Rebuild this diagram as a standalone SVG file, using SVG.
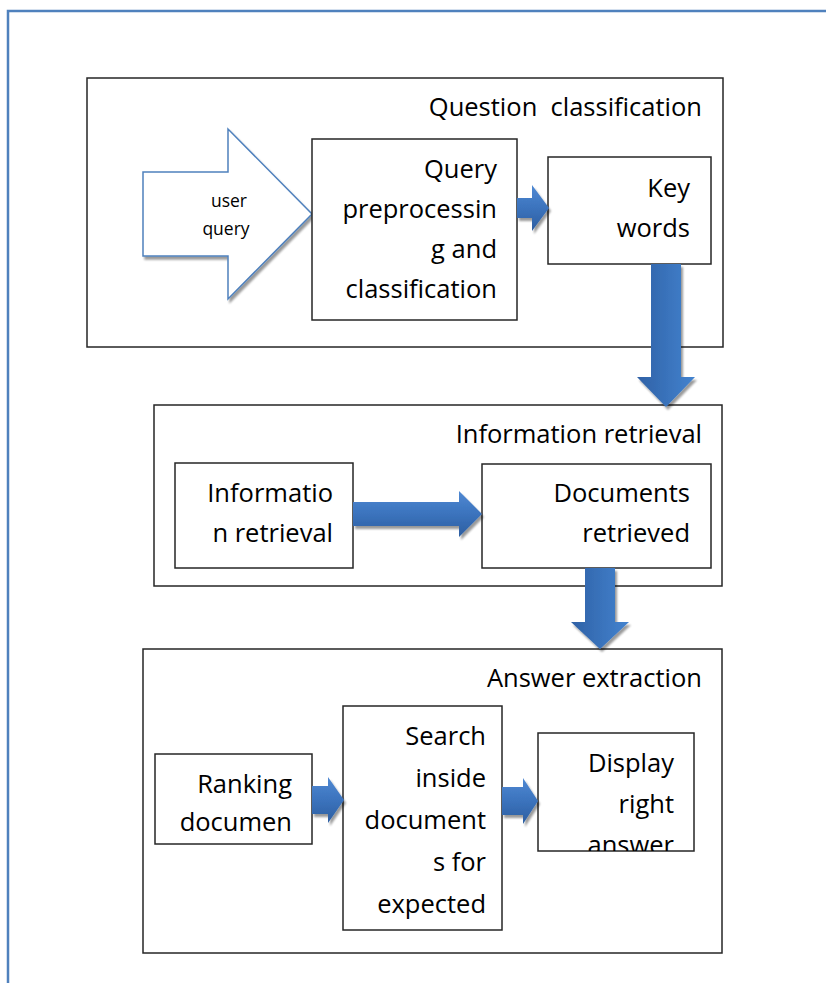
<svg xmlns="http://www.w3.org/2000/svg" width="826" height="983" viewBox="0 0 826 983">
  <style>
    .frame { fill: none; stroke: #4f81bd; stroke-width: 2.5; }
    .box { fill: #ffffff; stroke: #262626; stroke-width: 1.5; }
    .lbl { font-family: "Open Sans", "Noto Sans", "Liberation Sans", sans-serif; font-size: 25.5px; fill: #000; text-anchor: end; }
    .small { font-family: "Open Sans", "Noto Sans", "Liberation Sans", sans-serif; font-size: 17.5px; fill: #000; text-anchor: middle; }
    .harrow { fill: url(#hGrad); filter: url(#shadow); }
    .varrow { fill: url(#vGrad); filter: url(#shadow); }
    .block { fill: #ffffff; stroke: #4f81bd; stroke-width: 1.5; filter: url(#shadow); }
  </style>
  <defs>
    <linearGradient id="hGrad" x1="0" y1="0" x2="0" y2="1">
      <stop offset="0" stop-color="#5089d3"/>
      <stop offset="0.5" stop-color="#3b73bd"/>
      <stop offset="1" stop-color="#2d5ea0"/>
    </linearGradient>
    <linearGradient id="vGrad" x1="0" y1="0" x2="1" y2="0">
      <stop offset="0" stop-color="#2f61a6"/>
      <stop offset="1" stop-color="#4383cf"/>
    </linearGradient>
    <filter id="shadow" x="-20%" y="-20%" width="150%" height="150%">
      <feGaussianBlur in="SourceAlpha" stdDeviation="1"/>
      <feOffset dx="2" dy="3" result="off"/>
      <feComponentTransfer>
        <feFuncA type="linear" slope="0.4"/>
      </feComponentTransfer>
      <feMerge>
        <feMergeNode/>
        <feMergeNode in="SourceGraphic"/>
      </feMerge>
    </filter>
    <clipPath id="clipDisplay">
      <rect x="538" y="733" width="156" height="118"/>
    </clipPath>
  </defs>

  <rect width="826" height="983" fill="#ffffff"/>

  <!-- page border -->
  <path class="frame" d="M8,983 V11 H826"/>

  <!-- stage 1 -->
  <g id="stage-question-classification">
    <rect class="box" x="87" y="78" width="636" height="269"/>
    <text class="lbl" x="702" y="116" xml:space="preserve">Question  classification</text>
  </g>

  <g id="user-query">
    <polygon class="block" points="143,172 228,172 228,129 312,214 228,299 228,256 143,256"/>
    <text class="small" x="229" y="207">user</text>
    <text class="small" x="226" y="235">query</text>
  </g>

  <g id="query-preprocessing">
    <rect class="box" x="312" y="139" width="205" height="181"/>
    <text class="lbl" x="497" y="178">Query</text>
    <text class="lbl" x="497" y="218">preprocessin</text>
    <text class="lbl" x="497" y="258">g and</text>
    <text class="lbl" x="497" y="298">classification</text>
  </g>

  <g id="key-words">
    <rect class="box" x="548" y="157" width="163" height="107"/>
    <text class="lbl" x="690" y="197">Key</text>
    <text class="lbl" x="690" y="237">words</text>
  </g>

  <!-- stage 2 -->
  <g id="stage-information-retrieval">
    <rect class="box" x="154" y="405" width="568" height="181"/>
    <text class="lbl" x="702" y="443">Information retrieval</text>
  </g>

  <g id="information-retrieval">
    <rect class="box" x="175" y="463" width="178" height="105"/>
    <text class="lbl" x="333" y="502">Informatio</text>
    <text class="lbl" x="333" y="542">n retrieval</text>
  </g>

  <g id="documents-retrieved">
    <rect class="box" x="482" y="464" width="229" height="104"/>
    <text class="lbl" x="690" y="502">Documents</text>
    <text class="lbl" x="690" y="542">retrieved</text>
  </g>

  <!-- stage 3 -->
  <g id="stage-answer-extraction">
    <rect class="box" x="143" y="649" width="579" height="304"/>
    <text class="lbl" x="702" y="687">Answer extraction</text>
  </g>

  <g id="ranking-documents">
    <rect class="box" x="155" y="754" width="157" height="90"/>
    <text class="lbl" x="292" y="793">Ranking</text>
    <text class="lbl" x="292" y="831">documen</text>
  </g>

  <g id="search-inside-documents">
    <rect class="box" x="343" y="706" width="159" height="224"/>
    <text class="lbl" x="486" y="745">Search</text>
    <text class="lbl" x="486" y="787">inside</text>
    <text class="lbl" x="486" y="829">document</text>
    <text class="lbl" x="486" y="871">s for</text>
    <text class="lbl" x="486" y="913">expected</text>
  </g>

  <g id="display-right-answer">
    <rect class="box" x="538" y="733" width="156" height="118"/>
    <g clip-path="url(#clipDisplay)">
      <text class="lbl" x="674" y="772">Display</text>
      <text class="lbl" x="674" y="813">right</text>
      <text class="lbl" x="674" y="854">answer</text>
    </g>
  </g>

  <!-- connectors -->
  <g id="connectors">
    <polygon class="harrow" points="517,198 532,198 532,185 549,208 532,231 532,218 517,218"/>
    <polygon class="varrow" points="651,264 681,264 681,377 695,377 666,407 637,377 651,377"/>
    <polygon class="harrow" points="353,502 459,502 459,491 482,514 459,537 459,526 353,526"/>
    <polygon class="varrow" points="585,568 615,568 615,622 629,622 600,649 571,622 585,622"/>
    <polygon class="harrow" points="312,786 328,786 328,777 344,800 328,823 328,814 312,814"/>
    <polygon class="harrow" points="502,787 523,787 523,778 538,801 523,824 523,815 502,815"/>
  </g>
</svg>
